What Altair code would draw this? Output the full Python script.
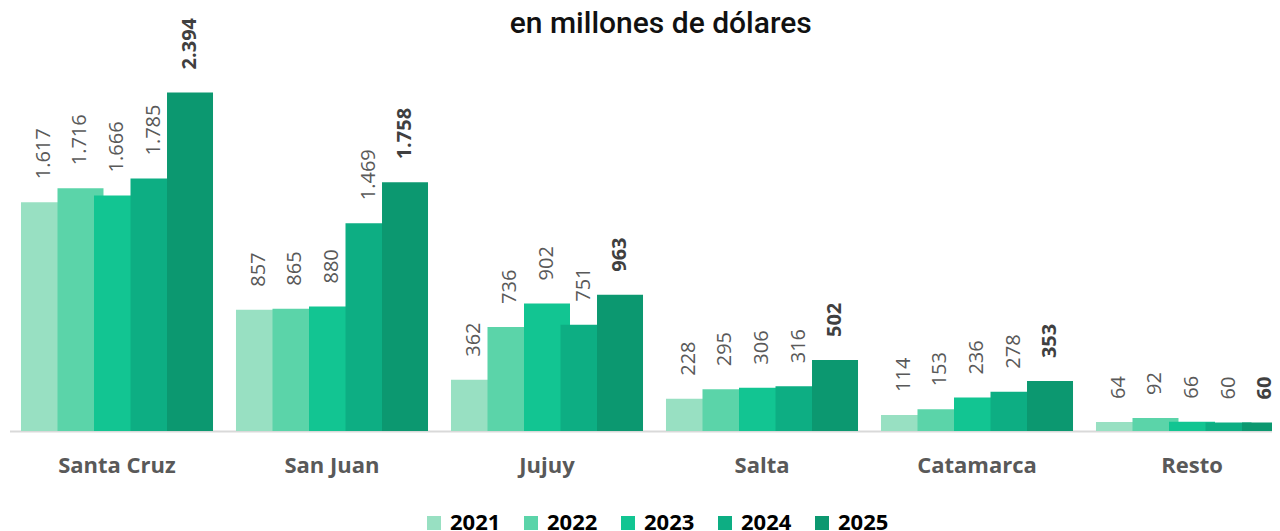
import altair as alt
import pandas as pd

categories = ["Santa Cruz", "San Juan", "Jujuy", "Salta", "Catamarca", "Resto"]
years = ["2021", "2022", "2023", "2024", "2025"]
v2021 = [1617, 857, 362, 228, 114, 64]
v2022 = [1716, 865, 736, 295, 153, 92]
v2023 = [1666, 880, 902, 306, 236, 66]
v2024 = [1785, 1469, 751, 316, 278, 60]
v2025 = [2394, 1758, 963, 502, 353, 60]
colors = ["#98e0c2", "#5bd4a9", "#12c592", "#0dae83", "#0c9870"]

series = [v2021, v2022, v2023, v2024, v2025]
rows = []
for i, c in enumerate(categories):
    for yr, vals in zip(years, series):
        rows.append({"provincia": c, "anio": yr, "valor": vals[i]})
df = pd.DataFrame(rows)

x = alt.X("provincia:N", sort=categories,
          scale=alt.Scale(paddingInner=0.151, paddingOuter=0.0755, range=[0, 1290]),
          axis=alt.Axis(title=None, labelAngle=0, labelFont="Open Sans", labelFontSize=22,
                        labelFontWeight="bold", labelColor="#595959", labelPadding=24,
                        ticks=False, domainColor="#d9d9d9", domainWidth=2))
xo = alt.XOffset("anio:N", sort=years, scale=alt.Scale(paddingInner=0, paddingOuter=0))
y = alt.Y("valor:Q", scale=alt.Scale(domain=[0, 2800]), axis=None)

base = alt.Chart(df)

bars = base.mark_bar(width=46).encode(
    x=x, xOffset=xo, y=y,
    color=alt.Color("anio:N", sort=years, scale=alt.Scale(domain=years, range=colors),
                    legend=alt.Legend(orient="none", legendX=413.5, legendY=477,
                                      direction="horizontal", title=None,
                                      symbolType="square", symbolSize=196, symbolStrokeWidth=0,
                                      labelFont="Open Sans", labelFontSize=22, labelFontWeight="bold",
                                      labelColor="#000000", columnPadding=19, labelOffset=5)),
)

lbl = "replace(format(datum.valor, ','), ',', '.')"

labels = base.transform_filter("datum.anio != '2025'").transform_calculate(lab=lbl).mark_text(
    angle=270, align="left", baseline="middle", dx=23, font="Open Sans", fontSize=20,
    color="#595959"
).encode(x=x, xOffset=xo, y=y, text="lab:N")

labels25 = base.transform_filter("datum.anio == '2025'").transform_calculate(lab=lbl).mark_text(
    angle=270, align="left", baseline="middle", dx=23, font="Open Sans", fontSize=20,
    fontWeight="bold", color="#404040"
).encode(x=x, xOffset=xo, y=y, text="lab:N")

chart = alt.layer(bars, labels, labels25).properties(
    width=1262.5, height=396,
    title=alt.Title("en millones de dólares", font="Roboto", fontSize=30, fontWeight=500,
                    color="#111111", anchor="middle", baseline="alphabetic", offset=3,
                    dx=20, dy=48),
    autosize=alt.AutoSizeParams(type="none"),
    padding={"left": 1.5, "top": 27, "right": 0, "bottom": 110},
).configure_view(stroke=None)

chart.save("out.html", embed_options={"renderer": "svg", "actions": False})
